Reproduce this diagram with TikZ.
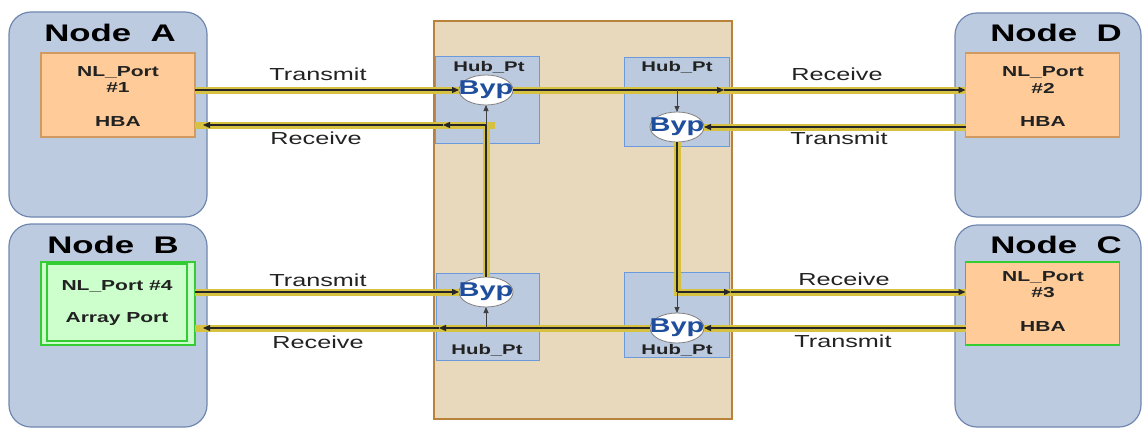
\documentclass[tikz,border=0pt]{standalone}
\usepackage{fontspec}
\setmainfont{Liberation Sans}[FakeStretch=1.45]
\usetikzlibrary{arrows.meta,shapes.geometric,calc}
\definecolor{nodefill}{HTML}{BDCBE0}
\definecolor{nodeline}{HTML}{7088B0}
\definecolor{orfill}{HTML}{FFCC99}
\definecolor{orline}{HTML}{D09A60}
\definecolor{grfill}{HTML}{CCFFCC}
\definecolor{grline}{HTML}{33CC33}
\definecolor{hubfill}{HTML}{E8D8BC}
\definecolor{hubline}{HTML}{B8823C}
\definecolor{hpfill}{HTML}{BCCADF}
\definecolor{hpline}{HTML}{6A9ADA}
\definecolor{bandcol}{HTML}{D6C240}
\definecolor{bypblue}{HTML}{1F4E9C}
\definecolor{txt}{HTML}{222222}
\begin{document}
\begin{tikzpicture}[x=1pt,y=-1pt,
  station/.style={draw=nodeline, fill=nodefill, line width=1.2pt, rounded corners=22pt, inner sep=0pt, outer sep=0pt},
  title/.style={font=\fontsize{24}{28}\selectfont\bfseries, text=black},
  portbox/.style={draw=orline, fill=orfill, line width=1.2pt, inner sep=0pt, outer sep=0pt, minimum width=154pt, minimum height=84pt},
  porttext/.style={font=\fontsize{14.5}{16}\selectfont\bfseries, text=txt},
  hubpt/.style={draw=hpline, fill=hpfill, line width=1pt, inner sep=0pt, outer sep=0pt},
  hubtext/.style={font=\fontsize{14}{16}\selectfont\bfseries, text=txt},
  byp/.style={ellipse, draw=gray, fill=white, line width=0.8pt, minimum width=54pt, minimum height=30pt, inner sep=0pt, outer sep=0pt},
  byptext/.style={font=\fontsize{20}{22}\selectfont\bfseries, text=bypblue},
  linklabel/.style={font=\fontsize{17.4}{20}\selectfont, text=txt},
  band/.style={draw=bandcol, line width=7pt},
  plainwire/.style={draw=black!85, line width=1.2pt},
  wire/.style={draw=black!85, line width=1.2pt, -{Triangle[length=7pt,width=6pt]}},
  branch/.style={draw=black!75, line width=0.8pt, -{Triangle[length=6pt,width=5pt]}}
]
\useasboundingbox (0,0) rectangle (1143,428);

% stations
\node[station, minimum width=198pt, minimum height=205pt] (nA) at (108,114.5) {};
\node[station, minimum width=198pt, minimum height=203pt] (nB) at (108,325.5) {};
\node[station, minimum width=186pt, minimum height=204pt] (nD) at (1048,115) {};
\node[station, minimum width=186pt, minimum height=202pt] (nC) at (1048,326) {};
\node[title] (tA) at (110,33) {Node~~A};
\node[title] (tB) at (113,245) {Node~~B};
\node[title] (tD) at (1056,33) {Node~~D};
\node[title] (tC) at (1056,245) {Node~~C};

% ports
\node[portbox] (oA) at (118,95) {};
\node[portbox] (oD) at (1042.5,95) {};
\node[portbox, draw=grline, line width=1.5pt, minimum height=83pt] (oC) at (1042.5,303.5) {};
\node[portbox, draw=grline, fill=grfill, line width=1.5pt, minimum height=83pt] (oB) at (118,303.5) {};
\draw[draw=grline, line width=1.5pt] ($(oB.south west)+(6,-4)$) rectangle ($(oB.north east)+(-8,2)$);
\node[porttext] (pA1) at (118,72) {NL\_Port};
\node[porttext] (pA2) at (118,88) {\#1};
\node[porttext] (pA3) at (118,122) {HBA};
\node[porttext] (pD1) at (1043,72) {NL\_Port};
\node[porttext] (pD2) at (1043,88) {\#2};
\node[porttext] (pD3) at (1043,122) {HBA};
\node[porttext] (pB1) at (117,286) {NL\_Port \#4};
\node[porttext] (pB2) at (117,319) {Array Port};
\node[porttext] (pC1) at (1043,277) {NL\_Port};
\node[porttext] (pC2) at (1043,293) {\#3};
\node[porttext] (pC3) at (1043,327) {HBA};

% hub
\node[draw=hubline, fill=hubfill, line width=2.5pt, minimum width=298pt, minimum height=398pt, inner sep=0pt] (hub) at (583,220) {};
\node[hubpt, minimum width=104pt, minimum height=86pt] (hA) at (487,100) {};
\node[hubpt, minimum width=105pt, minimum height=88pt] (hD) at (676.5,102) {};
\node[hubpt, minimum width=103pt, minimum height=87pt] (hB) at (487.5,316.5) {};
\node[hubpt, minimum width=105pt, minimum height=85pt] (hC) at (676.5,314.5) {};

% bypass circles
\node[byp] (bA) at (486,90) {};
\node[byp] (bD) at (677,127) {};
\node[byp] (bB) at (486,292) {};
\node[byp] (bC) at (677,328) {};

% link coordinates
\coordinate (m2) at (724,90);
\coordinate (c4) at (677,292);
\coordinate (m4) at (731,292);
\coordinate (m6) at (439,328);
\coordinate (c8) at (486,125);
\coordinate (m8) at (443,125);
\coordinate (e6) at (bC.west -| oB.east);
\coordinate (e8) at (c8 -| oA.east);

% bands
\draw[band] (bA.west -| oA.east) -- (bA.west);
\draw[band] (bA.east) -- (bA.east -| oD.west);
\draw[band] (bD.east -| oD.west) -- (bD.east);
\draw[band] (bD.south) -- (c4) -- (c4 -| oC.west);
\draw[band] (bC.east -| oC.west) -- (bC.east);
\draw[band] (bC.west) -- (e6);
\draw[band] (bB.west -| oB.east) -- (bB.west);
\draw[band] (bB.north) -- (c8) -- (e8);
\draw[band] (c8) -- ++(9,0);

% wires
\draw[wire] (bA.west -| oA.east) -- (bA.west);
\draw[wire] (bA.east) -- (m2);
\draw[wire] (m2) -- (bA.east -| oD.west);
\draw[branch] (bA.east -| bD.north) -- (bD.north);
\draw[wire] (bD.east -| oD.west) -- (bD.east);
\draw[plainwire] (bD.south) -- (c4);
\draw[wire] (c4) -- (m4);
\draw[wire] (m4) -- (c4 -| oC.west);
\draw[branch] (c4) -- (bC.north);
\draw[wire] (bC.east -| oC.west) -- (bC.east);
\draw[wire] (bC.west) -- (m6);
\draw[wire] (m6) -- ($(e6)+(8,0)$);
\draw[branch] (bC.west -| bB.south) -- (bB.south);
\draw[wire] (bB.west -| oB.east) -- (bB.west);
\draw[plainwire] (bB.north) -- (c8);
\draw[wire] (c8) -- (m8);
\draw[wire] (m8) -- ($(e8)+(8,0)$);
\draw[branch] (c8) -- (bA.south);

% bypass labels
\node[byptext] (yA) at (bA) {Byp};
\node[byptext] (yD) at (bD) {Byp};
\node[byptext] (yB) at (bB) {Byp};
\node[byptext] (yC) at (bC) {Byp};

% hub port labels
\node[hubtext] (lA) at (489,67) {Hub\_Pt};
\node[hubtext] (lD) at (677,67) {Hub\_Pt};
\node[hubtext] (lB) at (487,350) {Hub\_Pt};
\node[hubtext] (lC) at (677,350) {Hub\_Pt};

% link labels
\node[linklabel] (kA1) at (318,74) {Transmit};
\node[linklabel] (kA2) at (316,138) {Receive};
\node[linklabel] (kB1) at (318,280) {Transmit};
\node[linklabel] (kB2) at (318,342) {Receive};
\node[linklabel] (kD1) at (837,74) {Receive};
\node[linklabel] (kD2) at (839,138) {Transmit};
\node[linklabel] (kC1) at (844,279) {Receive};
\node[linklabel] (kC2) at (843,341) {Transmit};
\end{tikzpicture}
\end{document}
